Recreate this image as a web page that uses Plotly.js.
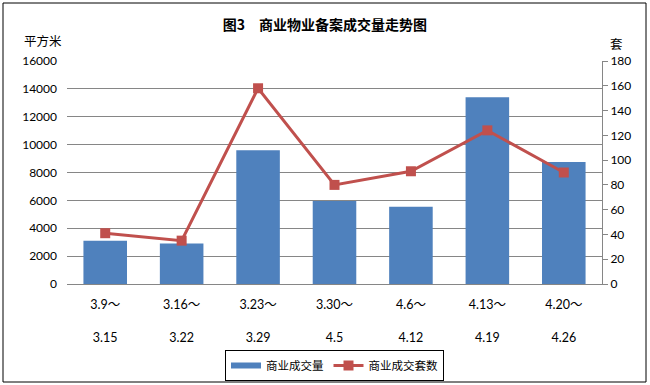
<!DOCTYPE html>
<html><head><meta charset="utf-8">
<script src="https://cdn.plot.ly/plotly-3.0.1.min.js"></script>
<style>body{margin:0;background:#fff}#c{width:650px;height:385px}</style>
</head><body><div id="c"></div>
<script>
var startLabels = ['3.9～','3.16～','3.23～','3.30～','4.6～','4.13～','4.20～'];
var endLabels = ['3.15','3.22','3.29','4.5','4.12','4.19','4.26'];
var area = [3100, 2900, 9600, 5950, 5550, 13400, 8750];
var units = [41, 35, 158, 80, 91, 124, 90];

var cats = startLabels.map(function(s,i){return i;});
var ticktext = startLabels.map(function(s,i){return s + '<br><br>' + endLabels[i];});
var F = 'Lato, "Noto Sans CJK SC", sans-serif';
var CJK = '"Noto Sans CJK SC", sans-serif';
var PW = 535, PH = 223;

var traces = [
  {type:'bar', x:cats, y:area, name:'商业成交量', marker:{color:'#4F81BD'}, width:0.57, yaxis:'y', showlegend:false},
  {type:'scatter', mode:'lines', x:[null], y:[null], name:'商业成交量', yaxis:'y', line:{color:'#4F81BD', width:6}, hoverinfo:'skip'},
  {type:'scatter', mode:'lines+markers', x:cats, y:units, name:'商业成交套数', yaxis:'y2',
   line:{color:'#C0504D', width:3}, marker:{symbol:'square', size:10, color:'#C0504D'}}
];
var layout = {
  width:650, height:385,
  margin:{l:67, r:48, t:61, b:101, autoexpand:false},
  paper_bgcolor:'#fff', plot_bgcolor:'#fff',
  showlegend:true,
  font:{family:F, size:11, color:'#000'},
  title:{text:'<b>图3　商业物业备案成交量走势图</b>', x:0.5, xanchor:'center', y:0.935, yanchor:'middle', font:{family:CJK, size:14, color:'#000'}},
  xaxis:{tickmode:'array', tickvals:cats, ticktext:ticktext, range:[-0.5,6.5], showgrid:false, automargin:false,
         showline:true, linecolor:'#868686', linewidth:1, ticks:'', zeroline:false, fixedrange:true,
         ticklabelstandoff:9, tickfont:{family:F, size:12.5}},
  yaxis:{range:[0,16000], dtick:2000, showgrid:true, gridcolor:'#868686', gridwidth:1, automargin:false,
         showline:false, zeroline:false, ticks:'', ticklabelstandoff:9, tickfont:{family:F, size:12}, tickformat:'d'},
  yaxis2:{range:[0,180], dtick:20, overlaying:'y', side:'right', showgrid:false, showline:true, automargin:false,
         linecolor:'#868686', ticks:'outside', ticklen:5, tickcolor:'#868686', zeroline:false,
         tickfont:{family:F, size:12}},
  legend:{orientation:'h', x:0.5, xanchor:'center', y:-66/PH, yanchor:'top', bordercolor:'#000', borderwidth:1,
          font:{family:CJK, size:11.5}, itemwidth:30, tracegroupgap:0},
  shapes:[{type:'rect', xref:'paper', yref:'paper', x0:(3-67)/PW, x1:(646-67)/PW, y0:(284-382)/PH, y1:(284-3)/PH,
           line:{color:'#000', width:1}, fillcolor:'rgba(0,0,0,0)'}],
  annotations:[
    {text:'平方米', xref:'paper', yref:'paper', x:(43-67)/PW, y:(284-41)/PH, xanchor:'center', yanchor:'middle', showarrow:false, font:{family:CJK, size:12.5}},
    {text:'套', xref:'paper', yref:'paper', x:(617-67)/PW, y:(284-43)/PH, xanchor:'center', yanchor:'middle', showarrow:false, font:{family:CJK, size:12.5}}
  ]
};
Plotly.newPlot('c', traces, layout, {displayModeBar:false, staticPlot:true});
</script></body></html>
